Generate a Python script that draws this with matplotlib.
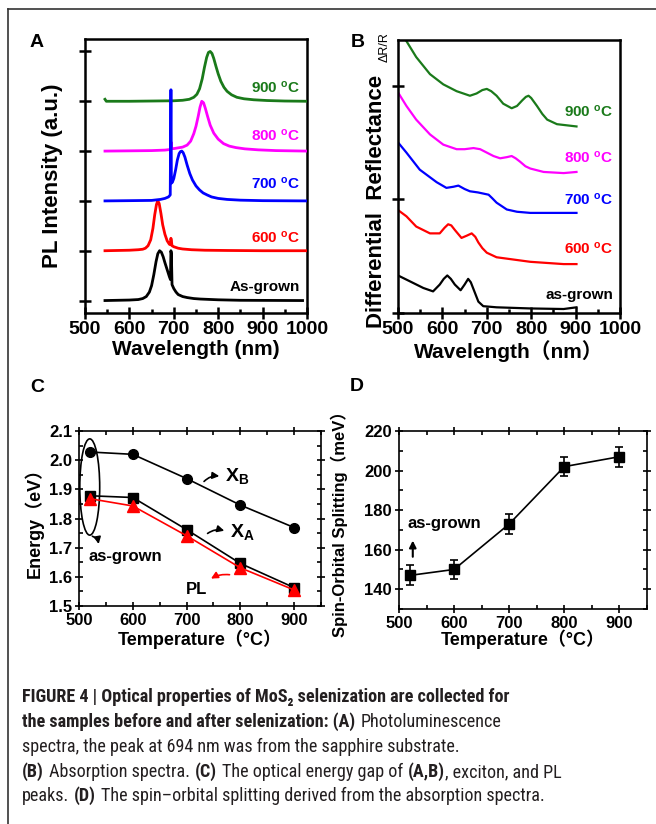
import matplotlib
matplotlib.use('Agg')
import matplotlib.pyplot as plt
from matplotlib import font_manager
from matplotlib.patches import Ellipse
from matplotlib.lines import Line2D
from matplotlib.ticker import MultipleLocator

plt.rcParams['font.family'] = ['Liberation Sans', 'DejaVu Sans']
plt.rcParams['font.weight'] = 'bold'
plt.rcParams['axes.labelweight'] = 'bold'
plt.rcParams['mathtext.fontset'] = 'custom'
plt.rcParams['mathtext.rm'] = 'Liberation Sans:bold'
plt.rcParams['mathtext.bf'] = 'Liberation Sans:bold'
plt.rcParams['mathtext.it'] = 'Liberation Sans:bold'

# ---- panel A: PL spectra (offset by 1 per sample)
pl_labels = ['As-grown', '600 $^{o}$C', '700 $^{o}$C', '800 $^{o}$C', '900 $^{o}$C']
pl_colors = ['black', '#ff0000', '#0000ff', '#ff00ff', '#1a7a1a']
pl_wl_asgrown = [545, 600, 620, 630, 638, 645, 650, 655, 660, 664, 668, 672, 676, 680, 685, 690,
                 692.5, 693.5, 694.5, 696, 700, 705, 710, 720, 730, 745, 760, 800, 850, 990]
pl_asgrown = [0, 0.01, 0.02, 0.04, 0.08, 0.17, 0.3, 0.52, 0.78, 0.94, 1.0, 0.97, 0.88, 0.76, 0.62, 0.48,
              0.42, 1.0, 0.95, 0.32, 0.24, 0.17, 0.12, 0.08, 0.06, 0.04, 0.03, 0.015, 0.005, 0.0]
pl_wl_600 = [545, 600, 620, 630, 636, 642, 648, 653, 657, 661, 664, 667, 671, 675, 680, 685, 690,
             692.5, 693.5, 694.5, 696, 700, 710, 720, 740, 770, 820, 900, 1000]
pl_600 = [0, 0.01, 0.02, 0.03, 0.05, 0.1, 0.22, 0.45, 0.72, 0.93, 1.0, 0.95, 0.75, 0.52, 0.33, 0.2, 0.13,
          0.12, 0.25, 0.2, 0.1, 0.08, 0.05, 0.035, 0.02, 0.01, 0.005, 0, 0]
pl_wl_700 = [545, 600, 650, 670, 680, 688, 692, 693.3, 693.8, 694.5, 695.5, 697, 700, 704, 708, 712, 715,
             718, 721, 725, 730, 736, 742, 750, 758, 766, 775, 785, 800, 820, 850, 900, 1000]
pl_700 = [0, 0.005, 0.01, 0.03, 0.05, 0.08, 0.12, 2.23, 2.23, 0.4, 0.36, 0.38, 0.45, 0.62, 0.82, 0.95, 0.99,
          1.0, 0.97, 0.88, 0.72, 0.55, 0.42, 0.3, 0.22, 0.16, 0.12, 0.08, 0.05, 0.03, 0.015, 0.005, 0]
pl_wl_800 = [545, 600, 650, 680, 690, 693, 694, 695.5, 700, 720, 730, 738, 745, 750, 755, 759, 763, 767,
             771, 776, 782, 790, 800, 812, 825, 840, 860, 890, 930, 1000]
pl_800 = [0, 0.005, 0.01, 0.02, 0.03, 0.04, 0.18, 0.05, 0.05, 0.08, 0.12, 0.2, 0.35, 0.5, 0.7, 0.88, 1.0, 0.97,
          0.86, 0.7, 0.52, 0.36, 0.24, 0.15, 0.1, 0.07, 0.045, 0.025, 0.01, 0]
pl_wl_900 = [545, 548, 552, 600, 650, 700, 720, 735, 745, 752, 758, 764, 769, 774, 778, 782, 786, 790, 795,
             800, 806, 813, 820, 830, 842, 858, 880, 910, 950, 1000]
pl_900 = [0.04, 0.0, 0, 0, 0.005, 0.01, 0.02, 0.04, 0.08, 0.14, 0.25, 0.45, 0.68, 0.88, 0.98, 1.0, 0.96, 0.86,
          0.7, 0.55, 0.4, 0.28, 0.2, 0.13, 0.08, 0.05, 0.03, 0.015, 0.005, 0]
pl_wl = [pl_wl_asgrown, pl_wl_600, pl_wl_700, pl_wl_800, pl_wl_900]
pl_val = [pl_asgrown, pl_600, pl_700, pl_800, pl_900]
pl_label_y = [0.27, 1.27, 2.35, 3.31, 4.27]

# ---- panel B: differential reflectance
dr_labels = ['as-grown', '600 $^{o}$C', '700 $^{o}$C', '800 $^{o}$C', '900 $^{o}$C']
dr_wl_asgrown = [500, 526, 557, 579, 594, 603, 611, 619, 628, 641, 650, 658, 664, 670, 681, 692, 722, 798, 873, 902]
dr_asgrown = [0.33, 0.28, 0.22, 0.19, 0.25, 0.30, 0.33, 0.30, 0.25, 0.20, 0.25, 0.30, 0.27, 0.21, 0.10, 0.06,
              0.05, 0.04, 0.035, 0.05]
dr_wl_600 = [500, 519, 541, 572, 594, 605, 613, 620, 628, 643, 655, 666, 674, 681, 690, 700, 722, 760, 798, 873, 902]
dr_600 = [0.905, 0.85, 0.76, 0.70, 0.70, 0.75, 0.78, 0.77, 0.73, 0.66, 0.68, 0.70, 0.67, 0.62, 0.57, 0.53,
          0.49, 0.47, 0.45, 0.43, 0.43]
dr_wl_700 = [500, 519, 549, 587, 609, 625, 636, 650, 662, 680, 692, 704, 712, 722, 745, 768, 798, 850, 902]
dr_700 = [1.50, 1.41, 1.26, 1.15, 1.10, 1.11, 1.12, 1.09, 1.07, 1.06, 1.05, 1.04, 1.01, 0.97, 0.91, 0.89,
          0.88, 0.88, 0.88]
dr_wl_800 = [500, 519, 541, 572, 602, 632, 650, 670, 685, 700, 715, 730, 745, 756, 765, 775, 787, 798, 828, 873, 902]
dr_800 = [1.94, 1.82, 1.70, 1.57, 1.48, 1.44, 1.44, 1.45, 1.44, 1.41, 1.38, 1.36, 1.37, 1.38, 1.36, 1.33,
          1.29, 1.27, 1.24, 1.23, 1.24]
dr_wl_900 = [500, 519, 541, 572, 602, 632, 662, 677, 690, 700, 710, 722, 737, 756, 768, 780, 788, 794, 800,
             813, 825, 836, 858, 902]
dr_900 = [2.50, 2.39, 2.25, 2.10, 2.01, 1.95, 1.91, 1.93, 1.96, 1.97, 1.95, 1.91, 1.84, 1.80, 1.82, 1.87,
          1.90, 1.91, 1.89, 1.82, 1.75, 1.70, 1.66, 1.64]
dr_wl = [dr_wl_asgrown, dr_wl_600, dr_wl_700, dr_wl_800, dr_wl_900]
dr_val = [dr_asgrown, dr_600, dr_700, dr_800, dr_900]
dr_label_y = [0.16, 0.57, 1.0, 1.37, 1.77]

# ---- panel C: energies
temp = [520, 600, 700, 800, 900]
energy_xb = [2.028, 2.02, 1.937, 1.846, 1.769]
energy_xa = [1.878, 1.872, 1.762, 1.646, 1.563]
energy_pl = [1.868, 1.843, 1.741, 1.631, 1.555]

# ---- panel D: spin-orbit splitting
splitting = [147, 150, 173, 202, 207]
splitting_err = [5, 5, 5, 5, 5]

W, H = 656, 824
fig = plt.figure(figsize=(W / 100, H / 100), dpi=100)
cjk = ['Liberation Sans', 'Noto Sans CJK SC']


def box(l, t, r, b):
    return [l / W, 1 - b / H, (r - l) / W, (b - t) / H]


def style(ax, lw, majlen=8, minlen=3):
    for s in ax.spines.values():
        s.set_linewidth(lw)
    ax.tick_params(which='major', direction='inout', length=majlen, width=lw)
    ax.tick_params(which='minor', direction='in', length=minlen, width=lw)


# A
axA = fig.add_axes(box(85, 39, 307, 313))
order = [0, 1, 4, 3, 2]
for i in order:
    axA.plot(pl_wl[i], [v + i for v in pl_val[i]], color=pl_colors[i], lw=2.0, zorder=2 + order.index(i))
    axA.text(984, pl_label_y[i], pl_labels[i], color=pl_colors[i], ha='right', va='center', fontsize=11)
axA.set_xlim(500, 1000)
axA.set_ylim(-0.25, 5.25)
axA.set_yticks(range(6))
axA.set_yticklabels([])
axA.xaxis.set_major_locator(MultipleLocator(100))
axA.xaxis.set_minor_locator(MultipleLocator(50))
style(axA, 1.8)
axA.tick_params(labelsize=14, pad=2)
axA.set_xlabel('Wavelength (nm)', fontsize=15, labelpad=1)
axA.set_ylabel('PL Intensity (a.u.)', fontsize=16, labelpad=10)

# B
axB = fig.add_axes(box(398, 40, 620, 313))
for i in range(5):
    axB.plot(dr_wl[i], dr_val[i], color=pl_colors[i], lw=1.6)
    axB.text(985, dr_label_y[i], dr_labels[i], color=pl_colors[i], ha='right', va='center', fontsize=11)
axB.set_xlim(500, 1000)
axB.set_ylim(0, 2.4)
axB.set_yticks([0, 1, 2])
axB.set_yticklabels([])
axB.xaxis.set_major_locator(MultipleLocator(100))
axB.xaxis.set_minor_locator(MultipleLocator(50))
style(axB, 1.8)
axB.tick_params(labelsize=14, pad=2)
axB.set_xlabel('Wavelength（nm）', fontsize=15, labelpad=1, family=cjk)

# C
axC = fig.add_axes(box(79, 431, 321, 606))
axC.plot(temp, energy_xb, 'o-', color='black', ms=7, lw=1.2)
axC.plot(temp, energy_xa, 's-', color='black', ms=7, lw=1.2)
axC.plot(temp, energy_pl, '^-', color='#ff0000', ms=8, lw=1.2)
axC.set_xlim(500, 950)
axC.set_ylim(1.5, 2.1)
axC.xaxis.set_major_locator(MultipleLocator(100))
axC.xaxis.set_minor_locator(MultipleLocator(50))
axC.yaxis.set_major_locator(MultipleLocator(0.1))
axC.yaxis.set_minor_locator(MultipleLocator(0.05))
style(axC, 1.2, 6, 3)
axC.tick_params(which='both', top=True, right=True, labelsize=12, pad=2)
axC.set_xlabel('Temperature（°C）', fontsize=13, labelpad=1, family=cjk)
axC.set_ylabel('Energy（eV）', fontsize=13, labelpad=4, family=cjk)
axC.add_patch(Ellipse((520, 1.908), 37, 0.33, fill=False, lw=1.2, color='black'))
axC.annotate('', xy=(537, 1.703), xytext=(520, 1.742),
             arrowprops=dict(arrowstyle='-|>', color='black', lw=1.2, connectionstyle='arc3,rad=-0.4'))
axC.text(517, 1.669, 'as-grown', fontsize=12, ha='left', va='center')
axC.annotate('', xy=(766, 1.944), xytext=(729, 1.92),
             arrowprops=dict(arrowstyle='-|>', color='black', lw=1.2, connectionstyle='arc3,rad=-0.3'))
axC.text(772, 1.945, r'X$_{\mathbf{B}}$', fontsize=14, ha='left', va='center')
axC.annotate('', xy=(775, 1.755), xytext=(735, 1.743),
             arrowprops=dict(arrowstyle='-|>', color='black', lw=1.2, connectionstyle='arc3,rad=-0.3'))
axC.text(780, 1.752, r'X$_{\mathbf{A}}$', fontsize=14, ha='left', va='center')
axC.annotate('', xy=(741, 1.589), xytext=(785, 1.606),
             arrowprops=dict(arrowstyle='-|>', color='#ff0000', lw=1.2, connectionstyle='arc3,rad=0.2'))
axC.text(718, 1.555, 'PL', fontsize=12, ha='center', va='center')

# D
axD = fig.add_axes(box(399, 431, 647, 609))
axD.errorbar(temp, splitting, yerr=splitting_err, fmt='s-', color='black', ms=7, lw=1.2,
             capsize=3, elinewidth=1.2, capthick=1.2)
axD.set_xlim(500, 950)
axD.set_ylim(130, 220)
axD.xaxis.set_major_locator(MultipleLocator(100))
axD.xaxis.set_minor_locator(MultipleLocator(50))
axD.set_yticks([140, 160, 180, 200, 220])
axD.yaxis.set_minor_locator(MultipleLocator(10))
style(axD, 1.2, 6, 3)
axD.tick_params(which='both', top=True, right=True, labelsize=12, pad=2)
axD.set_xlabel('Temperature（°C）', fontsize=13, labelpad=-1, family=cjk)
axD.set_ylabel('Spin-Orbital Splitting（meV）', fontsize=12, labelpad=12, family=cjk)
axD.annotate('', xy=(525, 166), xytext=(525, 155),
             arrowprops=dict(arrowstyle='-|>', color='black', lw=1.5))
axD.text(516, 173, 'as-grown', fontsize=12, ha='left', va='center')

# overlay axes for panel letters, B label, caption and frame
ov = fig.add_axes([0, 0, 1, 1], zorder=-1)
ov.set_xlim(0, W)
ov.set_ylim(H, 0)
ov.axis('off')
ov.patch.set_alpha(0)
ov.text(37, 42, 'A', fontsize=14, ha='center', va='center')
ov.text(358, 42, 'B', fontsize=14, ha='center', va='center')
ov.text(37, 387, 'C', fontsize=14, ha='center', va='center')
ov.text(357, 386, 'D', fontsize=14, ha='center', va='center')
ov.text(376, 201, 'Differential  Reflectance', rotation=90, fontsize=16, ha='center', va='center')
ov.text(385, 47, 'ΔR/R', rotation=90, fontsize=9, fontweight='normal', ha='center', va='center')

# caption: prefer a condensed face, then fit the first line to the reference width
names = {f.name for f in font_manager.fontManager.ttflist}
narrow = [n for n in ['Liberation Sans Narrow', 'Roboto Condensed', 'Open Sans Condensed',
                      'Noto Sans Condensed', 'DejaVu Sans Condensed'] if n in names]
cap_font = narrow[:1] + ['Liberation Sans', 'DejaVu Sans']
caption = [
    [('FIGURE 4 | Optical properties of MoS₂ selenization are collected for', True, False)],
    [('the samples before and after selenization: (A)', True, False), ('Photoluminescence', False, True)],
    [('spectra, the peak at 694 nm was from the sapphire substrate.', False, False)],
    [('(B)', True, False), ('Absorption spectra.', False, True), ('(C)', True, True),
     ('The optical energy gap of', False, True), ('(A,B)', True, True), (', exciton, and PL', False, False)],
    [('peaks.', False, False), ('(D)', True, True),
     ('The spin–orbital splitting derived from the absorption spectra.', False, True)],
]
cap_y = [697, 722, 747, 772, 796]
cap_texts = []
for line, y in zip(caption, cap_y):
    prev = None
    for txt, bold, gap in line:
        kw = dict(fontsize=13, family=cap_font, color='#231f20',
                  fontweight='bold' if bold else 'normal')
        if prev is None:
            prev = ov.text(22, y, txt, ha='left', va='center', **kw)
        else:
            prev = ov.annotate(txt, xy=(1, 0), xycoords=prev, xytext=(3.5 if gap else 0, 0),
                               textcoords='offset points', ha='left', va='bottom', **kw)
        cap_texts.append((prev, gap))

fig.canvas.draw()
first_w = cap_texts[0][0].get_window_extent(fig.canvas.get_renderer()).width
scale = min(1.15, 488 / first_w)
for t, gap in cap_texts:
    t.set_fontsize(13 * scale)
    if hasattr(t, 'xyann'):
        t.xyann = (3.5 * scale if gap else 0, 0)

ov.add_line(Line2D([8, 8], [9, H], color='#333333', lw=1.2))
ov.add_line(Line2D([8, W], [9, 9], color='#333333', lw=1.2))

fig.savefig('out.png', dpi=100)
